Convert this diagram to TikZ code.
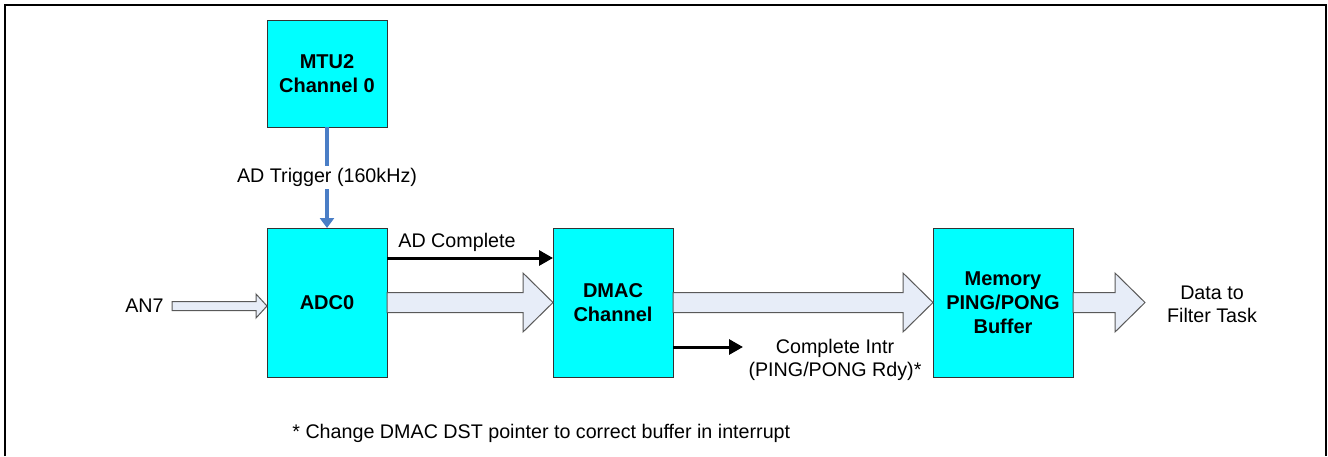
\documentclass[tikz,border=0pt]{standalone}
\usepackage{fontspec}
\setmainfont{Liberation Sans}
\usetikzlibrary{arrows.meta,calc}

\definecolor{boxcyan}{RGB}{0,255,255}
\definecolor{trigblue}{RGB}{74,126,198}
\definecolor{flowfill}{RGB}{231,237,248}

\tikzset{
  block/.style={draw=black!80, fill=boxcyan, line width=0.5pt, font=\bfseries,
    align=center, minimum width=60pt, minimum height=74.5pt, inner sep=0pt, outer sep=0pt},
  lbl/.style={inner sep=0pt, align=center},
  sig/.style={line width=1.5pt, -{Triangle[length=7pt,width=7.5pt]}},
  trig/.style={draw=trigblue, line width=2pt, -{Triangle[length=5pt,width=7pt]}},
  flow/.style={draw=black!65, fill=flowfill, line width=0.5pt, line join=miter},
}

% horizontal hollow arrow: start, tip, half shaft, half head, head length
\newcommand{\fatarrow}[5]{
  \draw[flow] ($(#1)+(0,-#3)$) -- ($(#2)+(-#5,-#3)$) -- ($(#2)+(-#5,-#4)$) -- (#2)
    -- ($(#2)+(-#5,#4)$) -- ($(#2)+(-#5,#3)$) -- ($(#1)+(0,#3)$) -- cycle;
}

\begin{document}
\begin{tikzpicture}[x=0.5pt,y=-0.5pt,font=\fontsize{9.85}{11.7}\selectfont]
  \useasboundingbox (0,0) rectangle (1328,456);
  % frame, open at the bottom edge
  \draw[line width=1.25pt] (4.8,456) -- (4.8,4.8) -- (1325.8,4.8) -- (1325.8,456);

  % blocks
  \node[block, minimum height=53.5pt] (mtu) at (327,73.5) {MTU2\\Channel 0};
  \node[block] (adc) at (327,302.5) {ADC0};
  \node[block] (dmac) at (613,302.5) {DMAC\\Channel};
  \node[block, minimum width=70pt] (mem) at (1003,302.5) {Memory\\PING/PONG\\Buffer};

  % trigger from the timer
  \draw[trig] (mtu) -- (adc)
    node[midway, fill=white, inner sep=1.25pt] (trglbl) {AD Trigger (160kHz)};

  % AD complete handshake
  \coordinate (adcout) at ($(adc.north east)+(0,30)$);
  \draw[sig] (adcout) -- (adcout -| dmac.west);
  \node[lbl, anchor=base west] (donelbl) at ($(adc.north east)+(11,19)$) {AD Complete};

  % sample flow
  \coordinate (an7in) at (172,306);
  \coordinate (an7tip) at (an7in -| adc.west);
  \node[lbl, anchor=base east] (an7) at (164,312) {AN7};
  \fatarrow{an7in}{an7tip}{4.5}{12}{11}
  \fatarrow{adc.east}{dmac.west}{10}{29.5}{30}
  \fatarrow{dmac.east}{mem.west}{10}{29.5}{30}
  \coordinate (memout) at ($(mem.east)+(72,0)$);
  \fatarrow{mem.east}{memout}{10}{29.5}{30}
  \node[lbl, anchor=north] (datalbl) at (1212,285.6) {Data to\\Filter Task};

  % interrupt out of the DMAC
  \coordinate (intout) at ($(dmac.south east)+(0,-30)$);
  \draw[sig] (intout) -- ++(70,0) coordinate (intend);
  \node[lbl, anchor=north] (intlbl) at (835,338.6) {Complete Intr\\(PING/PONG Rdy)*};

  % footnote
  \node[lbl, anchor=base west] (note) at (292,438)
    {* Change DMAC DST pointer to correct buffer in interrupt};
\end{tikzpicture}
\end{document}
